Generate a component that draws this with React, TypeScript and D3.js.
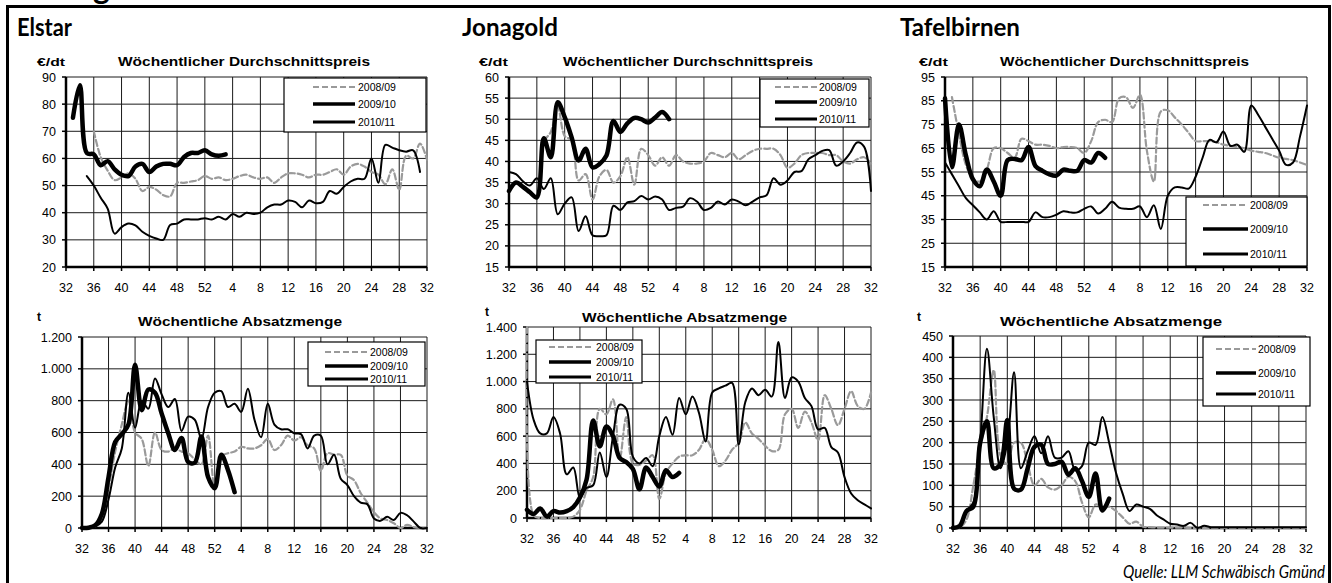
import React from 'react';
import * as d3 from 'd3';

const N = null;

// Kalenderwochen 32/2010 bis 32/2011
const weeks = [32, 33, 34, 35, 36, 37, 38, 39, 40, 41, 42, 43, 44, 45, 46, 47, 48, 49, 50, 51, 52,
  1, 2, 3, 4, 5, 6, 7, 8, 9, 10, 11, 12, 13, 14, 15, 16, 17, 18, 19, 20, 21, 22, 23, 24, 25, 26,
  27, 28, 29, 30, 31, 32];
const weekTicks = [32, 36, 40, 44, 48, 52, 4, 8, 12, 16, 20, 24, 28, 32];
const seasons = ['2008/09', '2009/10', '2010/11'];

const pad = (a: (number | null)[]) => a.concat(Array(weeks.length - a.length).fill(null));

// Elstar
const elstarPreis0809 = [N, N, N, N, 70, 60.5, 55.5, 52, 53, 54.5, 52.5, 48, 49.5, 48.5, 46.5, 46, 51, 51, 51.5, 52, 53.5, 52.5, 53, 52, 52.5, 53.5, 54, 53, 52.5, 53, 51, 53, 54.5, 54.5, 54, 53, 54, 54, 55, 56, 54, 57, 58, 57, 55, 54, 50.5, 56, 48.5, 61, 60, 65.5, 59.5];
const elstarPreis0910 = pad([N, N, N, 53.5, 50, 45.5, 41.5, 32.3, 34.7, 36, 35.3, 33, 31.5, 30.5, 30, 35.5, 36, 37.5, 37.5, 37.5, 38, 37.5, 38.5, 37.5, 39.5, 38.5, 40, 39.5, 40, 42, 43, 43, 44.5, 44, 42, 44.5, 43.5, 44, 48, 47, 49.5, 51.5, 52.5, 52.5, 60, 51, 65, 64, 63, 62.5, 63, 55]);
const elstarPreis1011 = pad([N, 75, 87, 62, 61.5, 57.5, 59, 56, 54, 53.5, 57, 58, 55, 57, 58, 58, 57.5, 60.5, 62, 62, 63, 61.5, 61, 61.5]);
const elstarMenge0809 = [0, 2, 10, 60, 250, 480, 650, 800, 600, 560, 390, 600, 490, 480, 500, 480, 470, 430, 400, 580, 250, 450, 470, 480, 510, 500, 500, 520, 560, 490, 520, 580, 550, 570, 520, 500, 360, 470, 460, 460, 330, 300, 220, 160, 100, 60, 50, 30, 0, 20, 5, 0, 0];
const elstarMenge0910 = [0, 5, 10, 40, 180, 380, 500, 850, 630, 800, 750, 940, 840, 760, 810, 610, 700, 680, 560, 760, 850, 860, 760, 780, 730, 875, 680, 570, 780, 650, 620, 620, 595, 590, 500, 580, 580, 400, 460, 310, 270, 200, 160, 150, 60, 45, 70, 50, 95, 80, 40, 0, 0];
const elstarMenge1011 = pad([0, 2, 17, 90, 320, 540, 590, 650, 1025, 740, 870, 850, 720, 595, 490, 565, 415, 410, 575, 320, 250, 460, 365, 225]);

// Jonagold
const jonaPreis0809 = [N, N, N, N, N, 45, 47, 53, 46, 45, 35.5, 37, 31, 36.5, 38, 35, 36.5, 41, 34.5, 43, 41.5, 39, 41, 39, 41.5, 40, 39.5, 39.5, 40, 42, 41.5, 41, 42, 40.5, 41.5, 42.5, 43, 43, 43, 41.5, 38.5, 39.5, 41.5, 42, 42, 42, 41.5, 41.5, 40, 39.5, 40.5, 41, 39.5];
const jonaPreis0910 = [37.5, 37, 35.3, 34.3, 36, 33.5, 36, 27.5, 30, 31.5, 23.5, 27, 22.5, 22.3, 22.5, 29.5, 28.5, 30.3, 30.6, 31.8, 31, 31.7, 31, 28.5, 29, 29.3, 31.3, 30.5, 28.5, 29, 30.5, 29.8, 31, 30.5, 29.6, 30.5, 31.5, 32, 36, 34.5, 35.5, 37.5, 37.7, 40.5, 41.5, 42.5, 42.7, 39, 40, 42, 44.5, 43.5, 33];
const jonaPreis1011 = pad([33, 35, 34, 32.7, 31.5, 45.5, 41, 54, 50.5, 45.7, 40.2, 43, 38.6, 39.4, 41.4, 49.6, 47, 49, 50.3, 50, 49.2, 50.4, 51.7, 50]);
const jonaMenge0809 = [1400, 20, 0, 0, 0, 0, 0, 10, 60, 200, 300, 800, 760, 870, 430, 740, 400, 390, 420, 460, 140, 330, 400, 450, 460, 460, 500, 580, 500, 380, 420, 500, 550, 700, 620, 580, 530, 490, 500, 760, 800, 660, 780, 700, 570, 900, 800, 680, 800, 930, 820, 800, 920];
const jonaMenge0910 = [1000, 720, 620, 620, 740, 620, 320, 370, 150, 220, 240, 480, 300, 600, 830, 800, 450, 400, 440, 380, 600, 740, 610, 880, 760, 890, 770, 560, 920, 950, 970, 990, 540, 850, 950, 900, 940, 890, 1290, 880, 1030, 1000, 880, 820, 650, 660, 520, 480, 300, 180, 130, 100, 70];
const jonaMenge1011 = pad([60, 30, 70, 10, 50, 40, 50, 80, 150, 280, 715, 525, 670, 600, 440, 410, 360, 210, 370, 300, 230, 350, 300, 330]);

// Tafelbirnen
const tafelPreis0809 = [N, 86.5, 71, 58, 52, 51, 56, 65, 65, 63, 61, 69, 68, 66.5, 66.5, 66, 65, 65.5, 65.5, 65, 63, 68, 76, 77, 76, 86, 86.5, 82, 87.5, 64, 51, 80.5, 81, 78, 75, 71.5, 68, 68, 68, 67.5, 66.5, 66, 65.5, 65, 64, 63.5, 63, 62, 61, 60.5, 60, 59, 58];
const tafelPreis0910 = [59, 54, 49, 44, 41, 38, 35, 38.5, 34, 34, 34, 34, 34, 38, 36, 36, 37, 38.5, 38, 38, 39.5, 40.5, 37.5, 39.5, 42.5, 40, 39.5, 39.5, 40.5, 36, 41, 31, 45, 48.5, 48.5, 48, 53, 61, 68.5, 67.5, 72, 66, 66.5, 63.5, 83, 79, 74, 69, 64, 58, 59, 70, 83];
const tafelPreis1011 = pad([86, 57, 75, 62, 52, 49, 56, 51, 45, 60, 60.5, 60, 65.5, 57.5, 55.5, 54, 53.5, 56, 55.5, 55.5, 60, 59, 63, 61]);
const tafelMenge0809 = [0, 2, 20, 100, 190, 260, 370, 170, 150, 200, 200, 150, 100, 115, 95, 90, 100, 120, 110, 60, 25, 55, 50, 50, 40, 25, 10, 15, 3, 2, 1, 1, 1, 1, 1, 0, 0, 0, 0, 0, 0, 0, 0, 0, 0, 0, 0, 0, 0, 0, 0, 0, 0];
const tafelMenge0910 = [0, 5, 40, 60, 200, 420, 260, 140, 200, 365, 140, 180, 215, 175, 215, 165, 165, 180, 135, 145, 200, 195, 260, 200, 130, 80, 40, 55, 50, 45, 30, 20, 10, 8, 5, 12, 0, 5, 2, 2, 2, 2, 2, 2, 2, 2, 2, 2, 2, 2, 2, 2, 2];
const tafelMenge1011 = pad([0, 5, 40, 50, 200, 250, 140, 150, 253, 92, 90, 140, 190, 195, 150, 150, 155, 125, 140, 110, 73, 128, 41, 69]);

const de = d3.formatLocale({ decimal: ',', thousands: '.', grouping: [3], currency: ['', ' €'] });
const fmt = de.format(',');

const SANS = "'Liberation Sans', Arial, sans-serif";
const HEAD = "Lato, 'Liberation Sans', sans-serif";

// Linienstile der Saisons
const seriesStyle = [
  { stroke: '#9a9a9a', width: 2.2, dash: '6 3' },
  { stroke: '#000', width: 2, dash: undefined },
  { stroke: '#000', width: 4.5, dash: undefined },
];
const legendWidth = [2.2, 3.4, 2.8];

interface Legend { x: number; y: number; w: number; h: number; rows: number[]; lx1: number; lx2: number; tx: number }
interface Panel {
  id: string;
  x0: number; x1: number; y0: number; y1: number;
  domain: [number, number]; step: number;
  title: string; titleX: number; titleY: number; titleW: number;
  unit: string; unitX: number; unitY: number; unitW: number;
  legend: Legend;
  series: (number | null)[][];
}

const PREIS = 'Wöchentlicher Durchschnittspreis';
const MENGE = 'Wöchentliche Absatzmenge';

const panels: Panel[] = [
  {
    id: 'ep', x0: 66, x1: 427, y0: 77, y1: 267, domain: [20, 90], step: 10,
    title: PREIS, titleX: 118, titleY: 66, titleW: 252, unit: '€/dt', unitX: 37, unitY: 66, unitW: 28,
    legend: { x: 284, y: 78, w: 142, h: 54, rows: [87, 104, 122], lx1: 313, lx2: 355, tx: 358 },
    series: [elstarPreis0809, elstarPreis0910, elstarPreis1011],
  },
  {
    id: 'em', x0: 82, x1: 427, y0: 337, y1: 528, domain: [0, 1200], step: 200,
    title: MENGE, titleX: 138, titleY: 326, titleW: 204, unit: 't', unitX: 37, unitY: 321, unitW: 0,
    legend: { x: 308, y: 342, w: 117, h: 44, rows: [352, 366, 379], lx1: 325, lx2: 368, tx: 370 },
    series: [elstarMenge0809, elstarMenge0910, elstarMenge1011],
  },
  {
    id: 'jp', x0: 509, x1: 871, y0: 77, y1: 267, domain: [15, 60], step: 5,
    title: PREIS, titleX: 563, titleY: 66, titleW: 250, unit: '€/dt', unitX: 479, unitY: 66, unitW: 29,
    legend: { x: 760, y: 79, w: 109, h: 48, rows: [87, 102, 119], lx1: 775, lx2: 817, tx: 819 },
    series: [jonaPreis0809, jonaPreis0910, jonaPreis1011],
  },
  {
    id: 'jm', x0: 527, x1: 871, y0: 327, y1: 518, domain: [0, 1400], step: 200,
    title: MENGE, titleX: 582, titleY: 322, titleW: 205, unit: 't', unitX: 485, unitY: 316, unitW: 0,
    legend: { x: 536, y: 340, w: 106, h: 43, rows: [347, 362, 377], lx1: 549, lx2: 591, tx: 596 },
    series: [jonaMenge0809, jonaMenge0910, jonaMenge1011],
  },
  {
    id: 'tp', x0: 945, x1: 1307, y0: 77, y1: 267, domain: [15, 95], step: 10,
    title: PREIS, titleX: 1000, titleY: 66, titleW: 249, unit: '€/dt', unitX: 919, unitY: 66, unitW: 29,
    legend: { x: 1186, y: 197, w: 121, h: 69, rows: [205, 229, 254], lx1: 1203, lx2: 1248, tx: 1250 },
    series: [tafelPreis0809, tafelPreis0910, tafelPreis1011],
  },
  {
    id: 'tm', x0: 953, x1: 1306, y0: 336, y1: 528, domain: [0, 450], step: 50,
    title: MENGE, titleX: 1000, titleY: 326, titleW: 222, unit: 't', unitX: 917, unitY: 321, unitW: 0,
    legend: { x: 1203, y: 337, w: 107, h: 69, rows: [349, 373, 394], lx1: 1216, lx2: 1256, tx: 1258 },
    series: [tafelMenge0809, tafelMenge0910, tafelMenge1011],
  },
];

const Chart: React.FC<{ p: Panel }> = ({ p }) => {
  const x = d3.scaleLinear().domain([0, weeks.length - 1]).range([p.x0, p.x1]);
  const y = d3.scaleLinear().domain(p.domain).range([p.y1, p.y0]);
  const yTicks = d3.range(p.domain[0], p.domain[1] + p.step / 2, p.step);
  const xTicks = weekTicks.map((w, i) => ({ w, i: i * 4 }));

  const line = d3.line<number | null>()
    .defined((d) => d != null)
    .x((_, i) => x(i))
    .y((d) => y(d as number))
    .curve(d3.curveCatmullRom.alpha(0.5));

  const clipId = `clip-${p.id}`;
  const L = p.legend;

  return (
    <g>
      <defs>
        <clipPath id={clipId}>
          <rect x={p.x0 - 3} y={p.y0 - 3} width={p.x1 - p.x0 + 6} height={p.y1 - p.y0 + 6} />
        </clipPath>
      </defs>

      {/* Gitter */}
      {yTicks.map((t) => (
        <line key={`gy${t}`} x1={p.x0} x2={p.x1} y1={y(t)} y2={y(t)} stroke="#1a1a1a" strokeWidth={1} />
      ))}
      {xTicks.map((t) => (
        <line key={`gx${t.i}`} x1={x(t.i)} x2={x(t.i)} y1={p.y0} y2={p.y1} stroke="#1a1a1a" strokeWidth={1} />
      ))}

      {/* Achsen */}
      <line x1={p.x0} x2={p.x0} y1={p.y0} y2={p.y1} stroke="#000" strokeWidth={2.5} />
      <line x1={p.x0} x2={p.x1} y1={p.y1} y2={p.y1} stroke="#000" strokeWidth={2.5} />
      {yTicks.map((t) => (
        <g key={`ty${t}`}>
          <line x1={p.x0 - 4} x2={p.x0} y1={y(t)} y2={y(t)} stroke="#000" strokeWidth={1.5} />
          <text x={p.x0 - 10} y={y(t) + 4.5} textAnchor="end" fontSize={12.5} fontFamily={SANS}>{fmt(t)}</text>
        </g>
      ))}
      {xTicks.map((t) => (
        <g key={`tx${t.i}`}>
          <line x1={x(t.i)} x2={x(t.i)} y1={p.y1} y2={p.y1 + 4} stroke="#000" strokeWidth={1.5} />
          <text x={x(t.i)} y={p.y1 + 25} textAnchor="middle" fontSize={12.5} fontFamily={SANS}>{t.w}</text>
        </g>
      ))}

      {/* Reihen */}
      <g clipPath={`url(#${clipId})`}>
        {p.series.map((s, i) => (
          <path key={i} d={line(s) || ''} fill="none" stroke={seriesStyle[i].stroke}
            strokeWidth={seriesStyle[i].width} strokeDasharray={seriesStyle[i].dash}
            strokeLinejoin="round" strokeLinecap="round" />
        ))}
      </g>

      {/* Titel */}
      <text x={p.titleX} y={p.titleY} fontSize={13} fontWeight={700} fontFamily={SANS}
        textLength={p.titleW} lengthAdjust="spacingAndGlyphs">{p.title}</text>
      {p.unitW > 0 ? (
        <text x={p.unitX} y={p.unitY} fontSize={11.5} fontWeight={700} fontFamily={SANS}
          textLength={p.unitW} lengthAdjust="spacingAndGlyphs">{p.unit}</text>
      ) : (
        <text x={p.unitX} y={p.unitY} fontSize={12} fontWeight={700} fontFamily={SANS}>{p.unit}</text>
      )}

      {/* Legende */}
      <rect x={L.x} y={L.y} width={L.w} height={L.h} fill="#fff" stroke="#000" strokeWidth={1.2} />
      {seasons.map((s, i) => (
        <g key={s}>
          <line x1={L.lx1} x2={L.lx2} y1={L.rows[i]} y2={L.rows[i]} stroke={seriesStyle[i].stroke}
            strokeWidth={legendWidth[i]} strokeDasharray={seriesStyle[i].dash} />
          <text x={L.tx} y={L.rows[i] + 3.8} fontSize={10.5} fontFamily={SANS}>{s}</text>
        </g>
      ))}
    </g>
  );
};

const headings = [
  { text: 'Elstar', x: 17, w: 55 },
  { text: 'Jonagold', x: 462, w: 96 },
  { text: 'Tafelbirnen', x: 900, w: 120 },
];

const App: React.FC = () => (
  <svg width={1332} height={583} style={{ position: 'absolute', left: 0, top: 0, background: '#fff' }}>
    <rect width={1332} height={583} fill="#fff" />
    {/* oberer, abgeschnittener Seitentitel: nur die Unterlänge des g ist sichtbar */}
    <text x={110} y={-1.5} textAnchor="end" fontSize={32} fontWeight={700} fontFamily={HEAD}>Preisentwicklung</text>
    <rect x={7.5} y={6.5} width={1322} height={620} fill="none" stroke="#000" strokeWidth={3} />
    {headings.map((h) => (
      <text key={h.text} x={h.x} y={36} fontSize={24} fontWeight={700} fontFamily={HEAD}
        textLength={h.w} lengthAdjust="spacingAndGlyphs">{h.text}</text>
    ))}
    {panels.map((p) => <Chart key={p.id} p={p} />)}
    <text x={1123} y={578} fontSize={18} fontStyle="italic" fontFamily={HEAD}
      textLength={202} lengthAdjust="spacingAndGlyphs">Quelle: LLM Schwäbisch Gmünd</text>
  </svg>
);

export default App;
